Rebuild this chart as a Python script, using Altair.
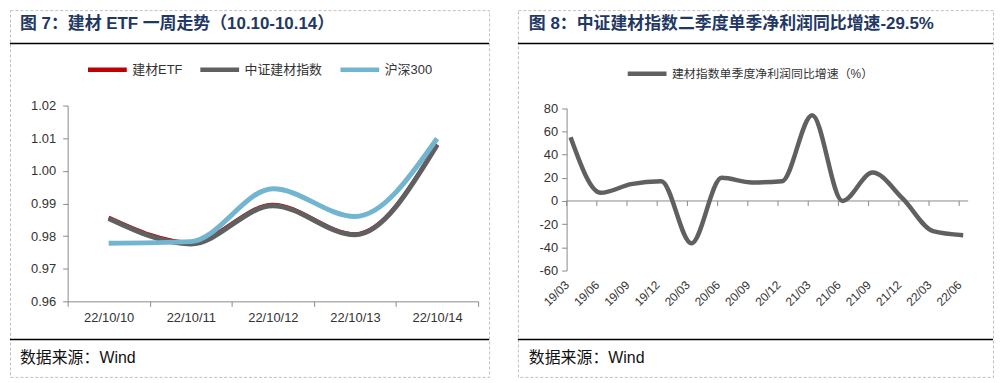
import altair as alt
import pandas as pd

# ---------------- data ----------------
dates = ["22/10/10", "22/10/11", "22/10/12", "22/10/13", "22/10/14"]
etf = [0.9857, 0.9780, 0.9896, 0.9806, 1.0081]
csi_bm = [0.9854, 0.9776, 0.9893, 0.9804, 1.0079]
hs300 = [0.9778, 0.9783, 0.9945, 0.9860, 1.0099]
series1 = ["建材ETF", "中证建材指数", "沪深300"]
colors1 = ["#C00000", "#606060", "#72B5D0"]
y1_ticks = [0.96, 0.97, 0.98, 0.99, 1.00, 1.01, 1.02]

quarters = ["19/03", "19/06", "19/09", "19/12", "20/03", "20/06", "20/09",
            "20/12", "21/03", "21/06", "21/09", "21/12", "22/03", "22/06"]
growth = [55, 7, 14.5, 17, -36.5, 20, 16, 17, 74, 0, 24.5, 2, -26, -29.5]
series2 = "建材指数单季度净利润同比增速（%）"
y2_ticks = [-60, -40, -20, 0, 20, 40, 60, 80]

title1 = "图 7：建材 ETF 一周走势（10.10-10.14）"
title2 = "图 8：中证建材指数二季度单季净利润同比增速-29.5%"
source = "数据来源：Wind"

FONT = "Liberation Sans, Noto Sans CJK SC"
AX = "#898989"
H = 369
W1, W2 = 482, 478


def frame(w, title, tx):
    one_t = pd.DataFrame({"t": [title]})
    one_s = pd.DataFrame({"t": [source]})
    one = pd.DataFrame({"a": [0]})
    t = alt.Chart(one_t).mark_text(
        align="left", baseline="middle", font=FONT, fontSize=17,
        fontWeight="bold", color="#1F3864"
    ).encode(text="t:N", x=alt.value(tx), y=alt.value(14.5))
    s = alt.Chart(one_s).mark_text(
        align="left", baseline="middle", font=FONT, fontSize=16, color="#111111"
    ).encode(text="t:N", x=alt.value(tx), y=alt.value(350.5))
    r1 = alt.Chart(one).mark_rule(color="black", strokeWidth=1.5).encode(
        x=alt.value(0), x2=alt.value(w), y=alt.value(33.5))
    r2 = alt.Chart(one).mark_rule(color="black", strokeWidth=1.5).encode(
        x=alt.value(0), x2=alt.value(w), y=alt.value(331.5))
    return [t, s, r1, r2]


# ---------------- left panel ----------------
x1 = alt.X("date:O",
           scale=alt.Scale(type="band", domain=dates, range=[58, 471],
                           paddingInner=0, paddingOuter=0),
           bandPosition=0.5,
           axis=alt.Axis(offset=-76, tickBand="extent", domainColor=AX,
                         tickColor=AX, tickSize=5, labelPadding=5,
                         labelFontSize=13, labelFont=FONT, labelColor="#333333",
                         labelAngle=0, grid=False, title=None))
y1 = alt.Y("v:Q",
           scale=alt.Scale(domain=[0.96, 1.02], range=[293, 96], nice=False, zero=False),
           axis=alt.Axis(offset=-58, values=y1_ticks, format=".2f", tickSize=5,
                         labelPadding=7, domainColor=AX, tickColor=AX,
                         labelFontSize=13, labelFont=FONT, labelColor="#333333",
                         grid=False, title=None))
c1 = alt.Color("series:N",
               scale=alt.Scale(domain=series1, range=colors1),
               legend=alt.Legend(orient="none", legendX=76, legendY=38,
                                 direction="horizontal", symbolType="stroke",
                                 symbolSize=1521, symbolStrokeWidth=4.5,
                                 labelFont=FONT, labelFontSize=13,
                                 labelColor="#333333", columnPadding=8,
                                 labelOffset=3, padding=0, labelLimit=0,
                                 title=None))

lines1 = []
for name, vals, sw in [(series1[0], etf, 4), (series1[1], csi_bm, 5), (series1[2], hs300, 5)]:
    df = pd.DataFrame({"date": dates, "v": vals, "series": [name] * len(dates)})
    lines1.append(
        alt.Chart(df).mark_line(interpolate="monotone", strokeWidth=sw)
        .encode(x=x1, y=y1, color=c1)
    )

left = alt.layer(*frame(W1, title1, 10), *lines1).properties(width=W1, height=H)

# ---------------- right panel ----------------
x2 = alt.X("q:O",
           scale=alt.Scale(type="point", domain=quarters, range=[53, 448], padding=0),
           axis=alt.Axis(offset=-107, domain=False, ticks=False, labelAngle=315,
                         labelAlign="right", labelBaseline="middle",
                         labelPadding=12, labelOffset=-4, labelFontSize=12,
                         labelFont=FONT, labelColor="#333333", grid=False,
                         title=None))
y2 = alt.Y("g:Q",
           scale=alt.Scale(domain=[-60, 80], range=[262, 98.7], nice=False, zero=False),
           axis=alt.Axis(offset=-49, values=y2_ticks, tickSize=5, labelPadding=4,
                         labelExpr="'' + datum.value",
                         domainColor=AX, tickColor=AX, labelFontSize=13,
                         labelFont=FONT, labelColor="#333333", grid=False,
                         title=None))
c2 = alt.Color("s2:N",
               scale=alt.Scale(domain=[series2], range=["#606060"]),
               legend=alt.Legend(orient="none", legendX=108, legendY=42,
                                 direction="horizontal", symbolType="stroke",
                                 symbolSize=1521, symbolStrokeWidth=4.5,
                                 labelFont=FONT, labelFontSize=12,
                                 labelColor="#333333", labelOffset=3,
                                 labelLimit=0, padding=0, title=None))

df2 = pd.DataFrame({"q": quarters, "g": growth, "s2": [series2] * len(quarters)})
qdf = pd.DataFrame({"q": quarters})
one = pd.DataFrame({"a": [0]})

zero_line = alt.Chart(one).mark_rule(color=AX).encode(
    x=alt.value(49), x2=alt.value(453), y=alt.datum(0))
zero_ticks = alt.Chart(qdf).mark_rule(color=AX, xOffset=-4).encode(
    x=x2, y=alt.datum(0), y2=alt.datum(-4.3))
line2 = alt.Chart(df2).mark_line(interpolate="monotone", strokeWidth=4.5).encode(
    x=x2, y=y2, color=c2)

right = alt.layer(*frame(W2, title2, 11), zero_line, zero_ticks, line2).properties(
    width=W2, height=H)

chart = alt.hconcat(left, right, spacing=25).resolve_scale(
    color="independent", x="independent", y="independent"
).properties(padding=0).configure_view(
    stroke="#BFBFBF", strokeDash=[3, 2], strokeWidth=1
)

chart.save("out.html", embed_options={"renderer": "svg", "actions": False})
